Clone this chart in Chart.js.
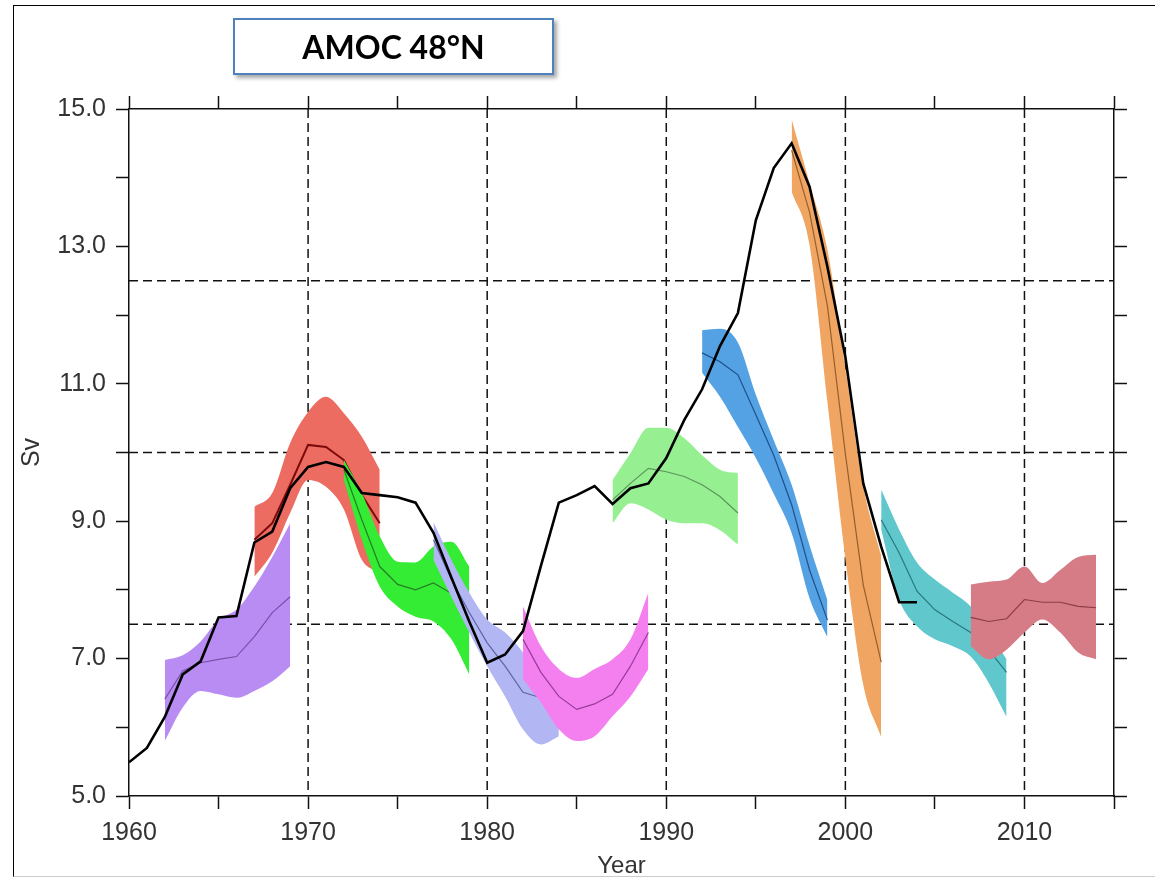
<!DOCTYPE html>
<html lang="en">
<head>
<meta charset="UTF-8">
<title>AMOC 48°N</title>
<script src="https://cdn.jsdelivr.net/npm/chart.js@4.4.1/dist/chart.umd.min.js"></script>
<style>
  body { margin: 0; background: #fff; }
  #wrap { position: relative; width: 1155px; height: 879px; overflow: hidden; }
  #frame { position: absolute; left: 13px; top: 5px; width: 1150px; height: 870px;
           border-left: 1.5px solid #000; border-top: 1.5px solid #000; border-bottom: 1px solid #ccc; }
  canvas { position: absolute; left: 0; top: 0; }
  #title { position: absolute; left: 233px; top: 18px; width: 317px; height: 53px;
           border: 2px solid #4f81bd; background: #fff; box-shadow: 3px 3px 4px rgba(0,0,0,0.35);
           display: flex; align-items: center; justify-content: center;
           font: bold 32px Lato, 'Liberation Sans', sans-serif; color: #000; z-index: 2; }
</style>
</head>
<body>
<div id="wrap">
  <div id="frame"></div>
  <canvas id="amoc" width="1155" height="879"></canvas>
  <div id="title">AMOC 48°N</div>
</div>

<script>
// observed / reconstructed AMOC at 48N (black line)
const obsYears = [1960,1961,1962,1963,1964,1965,1966,1967,1968,1969,1970,1971,1972,1973,1974,1975,
                  1976,1977,1978,1979,1980,1981,1982,1983,1984,1985,1986,1987,1988,1989,1990,1991,
                  1992,1993,1994,1995,1996,1997,1998,1999,2000,2001,2002,2003,2004];
const obsSv = [5.49,5.70,6.15,6.77,6.96,7.60,7.62,8.69,8.85,9.48,9.79,9.86,9.79,9.41,9.38,9.35,
               9.27,8.83,8.18,7.54,6.94,7.06,7.40,8.35,9.27,9.38,9.51,9.25,9.48,9.55,9.92,10.47,
               10.92,11.55,12.03,13.38,14.14,14.50,13.87,12.70,11.39,9.55,8.63,7.82,7.82];

// hindcast ensembles: spread (hi/lo) and ensemble mean
const purpleYears = [1962,1963,1964,1965,1966,1967,1968,1969];
const purpleHi   = [6.98,7.05,7.25,7.57,7.71,8.05,8.48,8.97];
const purpleMean = [6.41,6.82,6.94,6.99,7.03,7.32,7.67,7.90];
const purpleLo   = [5.80,6.29,6.53,6.48,6.43,6.53,6.67,6.89];

const redYears = [1967,1968,1969,1970,1971,1972,1973,1974];
const redHi   = [9.21,9.41,10.14,10.59,10.81,10.57,10.23,9.75];
const redMean = [8.73,8.97,9.53,10.11,10.08,9.89,9.38,8.97];
const redLo   = [8.19,8.54,9.12,9.60,9.50,9.17,8.44,8.25];

const greenYears = [1972,1973,1974,1975,1976,1977,1978,1979];
const greenHi   = [9.89,9.41,8.78,8.41,8.40,8.63,8.70,8.34];
const greenMean = [9.75,9.02,8.34,8.08,8.00,8.10,7.95,7.55];
const greenLo   = [9.60,8.73,8.05,7.76,7.61,7.54,7.28,6.77];

const lavenderYears = [1977,1978,1979,1980,1981,1982,1983,1984];
const lavenderHi   = [8.99,8.44,7.96,7.57,7.38,7.09,6.70,6.02];
const lavenderMean = [8.73,8.15,7.67,7.23,6.89,6.51,6.43,6.40];
const lavenderLo   = [8.44,7.90,7.38,6.89,6.45,5.97,5.75,5.87];

const pinkYears = [1982,1983,1984,1985,1986,1987,1988,1989];
const pinkHi   = [7.76,7.18,6.85,6.72,6.85,6.99,7.28,7.96];
const pinkMean = [7.28,6.80,6.45,6.26,6.34,6.48,6.89,7.38];
const pinkLo   = [6.70,6.36,5.97,5.80,5.87,6.16,6.45,6.85];

const limeYears = [1987,1988,1989,1990,1991,1992,1993,1994];
const limeHi   = [9.60,9.99,10.36,10.36,10.21,9.96,9.75,9.70];
const limeMean = [9.31,9.55,9.77,9.72,9.65,9.53,9.36,9.12];
const limeLo   = [8.97,9.26,9.17,9.02,8.97,8.97,8.87,8.66];

const blueYears = [1992,1993,1994,1995,1996,1997,1998,1999];
const blueHi   = [11.78,11.80,11.60,10.84,10.18,9.53,8.65,7.85];
const blueMean = [11.45,11.32,11.13,10.55,9.96,9.24,8.29,7.56];
const blueLo   = [11.16,10.81,10.37,9.92,9.40,8.83,7.88,7.31];

const orangeYears = [1997,1998,1999,2000,2001,2002];
const orangeHi   = [14.85,13.92,12.95,11.23,9.51,8.50];
const orangeMean = [14.40,13.50,12.13,9.98,8.07,6.95];
const orangeLo   = [13.80,13.02,10.73,8.45,6.62,5.86];

const tealYears = [2002,2003,2004,2005,2006,2007,2008,2009];
const tealHi   = [9.46,8.88,8.40,8.15,7.96,7.76,7.38,6.99];
const tealMean = [9.02,8.54,7.98,7.71,7.54,7.38,7.13,6.80];
const tealLo   = [8.88,7.86,7.47,7.28,7.18,7.03,6.65,6.15];

const roseYears = [2007,2008,2009,2010,2011,2012,2013,2014];
const roseHi   = [8.08,8.12,8.15,8.34,8.10,8.29,8.48,8.51];
const roseMean = [7.60,7.54,7.58,7.86,7.82,7.82,7.76,7.74];
const roseLo   = [7.18,6.99,7.13,7.38,7.57,7.38,7.09,6.99];

// dashed reference lines
const gridYears = [1970, 1980, 1990, 2000, 2010];
const gridLevels = [7.5, 10.0, 12.5];

function pts(xs, ys) {
    return xs.map((x, i) => ({ x: x, y: ys[i] }));
}

// bottom-most first
const bands = [
    [redYears, redHi, redMean, redLo, 'rgb(236,108,98)', 'rgb(125,10,10)', 2],
    [purpleYears, purpleHi, purpleMean, purpleLo, 'rgb(184,140,242)', 'rgb(120,80,170)', 1.2],
    [greenYears, greenHi, greenMean, greenLo, 'rgb(52,236,52)', 'rgb(40,125,40)', 1.2],
    [lavenderYears, lavenderHi, lavenderMean, lavenderLo, 'rgb(178,182,242)', 'rgb(95,100,165)', 1.2],
    [pinkYears, pinkHi, pinkMean, pinkLo, 'rgb(244,128,240)', 'rgb(150,60,150)', 1.2],
    [limeYears, limeHi, limeMean, limeLo, 'rgb(150,240,145)', 'rgb(90,150,90)', 1.2],
    [blueYears, blueHi, blueMean, blueLo, 'rgb(84,162,228)', 'rgb(30,80,140)', 1.2],
    [orangeYears, orangeHi, orangeMean, orangeLo, 'rgb(240,166,98)', 'rgb(150,95,45)', 1.2],
    [tealYears, tealHi, tealMean, tealLo, 'rgb(96,200,204)', 'rgb(40,120,125)', 1.2],
    [roseYears, roseHi, roseMean, roseLo, 'rgb(214,124,134)', 'rgb(140,60,70)', 1.2]
];

const datasets = [{
    data: pts(obsYears, obsSv),
    borderColor: '#000',
    borderWidth: 2.6,
    pointRadius: 0,
    fill: false,
    order: 0
}];

bands.forEach((b, i) => {
    const base = 100 - i * 4;
    datasets.push({
        data: pts(b[0], b[1]),
        borderColor: 'rgba(0,0,0,0)',
        borderWidth: 0,
        backgroundColor: b[4],
        pointRadius: 0,
        cubicInterpolationMode: 'monotone',
        fill: '+1',
        order: base
    });
    datasets.push({
        data: pts(b[0], b[3]),
        borderColor: 'rgba(0,0,0,0)',
        borderWidth: 0,
        pointRadius: 0,
        cubicInterpolationMode: 'monotone',
        fill: false,
        order: base
    });
    datasets.push({
        data: pts(b[0], b[2]),
        borderColor: b[5],
        borderWidth: b[6],
        pointRadius: 0,
        fill: false,
        order: base - 1
    });
});

const refLines = {
    id: 'refLines',
    beforeDatasetsDraw(chart) {
        const { ctx, chartArea: a, scales } = chart;
        ctx.save();
        ctx.strokeStyle = '#111';
        ctx.lineWidth = 1.5;
        ctx.setLineDash([9, 5]);
        gridYears.forEach(v => {
            const px = scales.x.getPixelForValue(v);
            ctx.beginPath();
            ctx.moveTo(px, a.top);
            ctx.lineTo(px, a.bottom);
            ctx.stroke();
        });
        gridLevels.forEach(v => {
            const py = scales.y.getPixelForValue(v);
            ctx.beginPath();
            ctx.moveTo(a.left, py);
            ctx.lineTo(a.right, py);
            ctx.stroke();
        });
        ctx.restore();
    }
};

const axisFont = { family: "'Liberation Sans', Arial, sans-serif", size: 25 };
const axisGrid = { drawOnChartArea: false, drawTicks: true, tickLength: 13, tickColor: '#111', tickWidth: 1.5 };
const axisBorder = { display: true, color: '#111', width: 1.5 };

new Chart(document.getElementById('amoc').getContext('2d'), {
    type: 'line',
    data: { datasets: datasets },
    plugins: [refLines],
    options: {
        responsive: false,
        animation: false,
        layout: { padding: 0 },
        plugins: { legend: { display: false }, tooltip: { enabled: false }, title: { display: false } },
        scales: {
            x: {
                type: 'linear', position: 'bottom', min: 1960, max: 2015,
                afterFit: s => { s.height = 83; },
                ticks: {
                    stepSize: 5, autoSkip: false, maxRotation: 0, padding: 9,
                    color: '#333', font: axisFont,
                    callback: v => (v % 10 === 0 ? String(v) : '')
                },
                grid: axisGrid,
                border: axisBorder,
                title: { display: true, text: 'Year', color: '#333', font: { family: axisFont.family, size: 24 }, padding: { top: 0, bottom: -2 } }
            },
            x2: {
                type: 'linear', position: 'top', min: 1960, max: 2015,
                afterFit: s => { s.height = 109; },
                ticks: { stepSize: 5, display: false },
                grid: axisGrid,
                border: axisBorder
            },
            y: {
                type: 'linear', position: 'left', min: 5, max: 15,
                afterFit: s => { s.width = 129; },
                ticks: {
                    stepSize: 1, autoSkip: false, padding: 10,
                    color: '#333', font: axisFont,
                    callback: v => (v % 2 === 1 ? v.toFixed(1) : '')
                },
                grid: axisGrid,
                border: axisBorder,
                title: { display: true, text: 'Sv', color: '#333', font: { family: axisFont.family, size: 25 }, padding: { top: 17, bottom: 0 } }
            },
            yR: {
                type: 'linear', position: 'right', min: 5, max: 15,
                afterFit: s => { s.width = 41; },
                ticks: { stepSize: 1, display: false },
                grid: axisGrid,
                border: axisBorder
            }
        }
    }
});
</script>
</body>
</html>
